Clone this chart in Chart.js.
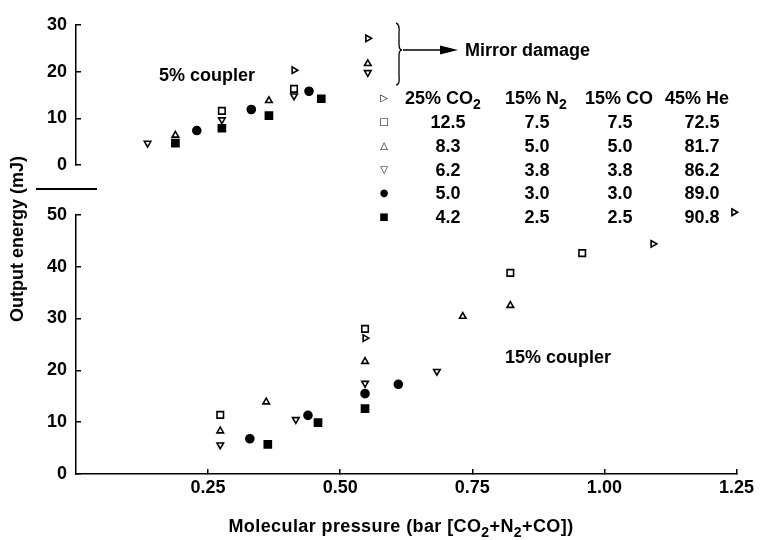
<!DOCTYPE html>
<html>
<head>
<meta charset="utf-8">
<script src="https://cdn.jsdelivr.net/npm/chart.js@4.4.0/dist/chart.umd.min.js"></script>
<style>
  body { margin: 0; background: #fff; }
  #wrap { position: relative; width: 762px; height: 540px; overflow: hidden;
          font-family: "Liberation Sans", Arial, sans-serif; font-weight: bold; font-size: 18px; color: #000; }
  .box { position: absolute; left: 0; width: 762px; }
  #topBox { top: 0; height: 190px; }
  #botBox { top: 190px; height: 350px; }
  .t { position: absolute; white-space: nowrap; line-height: 1; }
  .c { transform: translate(-50%, -50%); }
  .wide { letter-spacing: 0.4px; }
  .m { position: absolute; font-family: "DejaVu Sans", sans-serif; font-weight: bold; font-size: 10px; line-height: 1; transform: translate(-50%, -50%); }
  sub { font-size: 14px; vertical-align: -5px; line-height: 0; }
</style>
</head>
<body>
<div id="wrap">
  <div class="box" id="topBox"><canvas id="topChart"></canvas></div>
  <div class="box" id="botBox"><canvas id="botChart"></canvas></div>
  <div id="notes"></div>
</div>
<script>
// ---- data (x = bar, y = mJ) ----
// mixes: A ▷ 25% CO2 base, B □, C △, D ▽, E ●, F ■
const c5_mixA = [[0.408, 20.3], [0.546, 27.1]];
const c5_mixB = [[0.273, 11.6], [0.408, 16.3]];
const c5_mixC = [[0.186, 6.4], [0.361, 13.8], [0.546, 21.7]];
const c5_mixD = [[0.134, 4.7], [0.273, 9.7], [0.408, 14.8], [0.546, 19.8]];
const c5_mixE = [[0.226, 7.4], [0.328, 11.9], [0.436, 15.8]];
const c5_mixF = [[0.186, 4.7], [0.273, 7.9], [0.361, 10.6], [0.459, 14.2]];

const c15_mixA = [[0.547, 26.2], [1.092, 44.4], [1.245, 50.5]];
const c15_mixB = [[0.273, 11.4], [0.547, 28.0], [0.822, 38.8], [0.958, 42.6]];
const c15_mixC = [[0.273, 8.3], [0.360, 13.9], [0.547, 21.7], [0.732, 30.4], [0.822, 32.5]];
const c15_mixD = [[0.273, 5.6], [0.416, 10.5], [0.547, 17.5], [0.683, 19.8]];
const c15_mixE = [[0.329, 6.8], [0.439, 11.3], [0.547, 15.5], [0.610, 17.3]];
const c15_mixF = [[0.363, 5.7], [0.458, 9.9], [0.547, 12.6]];

const xTicks = [0.25, 0.5, 0.75, 1.0, 1.25];
const yTicks5 = [0, 10, 20, 30];
const yTicks15 = [0, 10, 20, 30, 40, 50];

const mixHeaders = ['25% CO<sub>2</sub>', '15% N<sub>2</sub>', '15% CO', '45% He'];
const mixCO2 = ['12.5', '8.3', '6.2', '5.0', '4.2'];
const mixN2 = ['7.5', '5.0', '3.8', '3.0', '2.5'];
const mixCO = ['7.5', '5.0', '3.8', '3.0', '2.5'];
const mixHe = ['72.5', '81.7', '86.2', '89.0', '90.8'];
const mixSymbols = ['\u25B7', '\u25A1', '\u25B3', '\u25BD', '\u25CF', '\u25A0'];

// ---- marker looks ----
const looks = [
    { style: 'triangle', rot: 90, fill: false, r: 3.8 },
    { style: 'rect', rot: 0, fill: false, r: 4.6 },
    { style: 'triangle', rot: 0, fill: false, r: 3.8 },
    { style: 'triangle', rot: 180, fill: false, r: 3.8 },
    { style: 'circle', rot: 0, fill: true, r: 4 },
    { style: 'rect', rot: 0, fill: true, r: 5 }
];

function makeSets(series) {
    return series.map((pts, i) => ({
        data: pts.map(p => ({ x: p[0], y: p[1] })),
        pointStyle: looks[i].style,
        pointRotation: looks[i].rot,
        pointRadius: looks[i].r,
        pointBackgroundColor: looks[i].fill ? '#000' : '#fff',
        pointBorderColor: '#000',
        pointBorderWidth: 1.6,
        showLine: false,
        clip: false
    }));
}

const tickFont = { family: '"Liberation Sans", Arial, sans-serif', size: 18, weight: 'bold' };
const axisGrid = { drawOnChartArea: false, tickLength: -5, color: '#000', lineWidth: 1.5 };
const axisBorder = { color: '#000', width: 1.5 };

function yScale(max, tickList) {
    return {
        type: 'linear', min: 0, max: max,
        afterBuildTicks: s => { s.ticks = tickList.map(v => ({ value: v })); },
        afterFit: s => { s.width = 76; },
        grid: axisGrid, border: axisBorder,
        ticks: { padding: 14, color: '#000', font: tickFont }
    };
}

const common = {
    responsive: true,
    maintainAspectRatio: false,
    animation: false,
    plugins: { legend: { display: false }, tooltip: { enabled: false } }
};

new Chart(document.getElementById('topChart'), {
    type: 'scatter',
    data: { datasets: makeSets([c5_mixA, c5_mixB, c5_mixC, c5_mixD, c5_mixE, c5_mixF]) },
    options: {
        ...common,
        layout: { padding: { top: 15, right: 18, bottom: 15, left: 0 } },
        scales: {
            x: { type: 'linear', display: false, min: 0, max: 1.25 },
            y: yScale(30, yTicks5)
        }
    }
});

new Chart(document.getElementById('botChart'), {
    type: 'scatter',
    data: { datasets: makeSets([c15_mixA, c15_mixB, c15_mixC, c15_mixD, c15_mixE, c15_mixF]) },
    options: {
        ...common,
        layout: { padding: { top: 17, right: 18, bottom: 0, left: 0 } },
        scales: {
            x: {
                type: 'linear', min: 0, max: 1.25,
                afterBuildTicks: s => { s.ticks = xTicks.map(v => ({ value: v })); },
                afterFit: s => { s.height = 66; },
                grid: axisGrid, border: axisBorder,
                ticks: { padding: 8, color: '#000', font: tickFont, callback: v => v.toFixed(2) }
            },
            y: yScale(50, yTicks15)
        }
    }
});

// ---- text, legend table and notes ----
const notes = document.getElementById('notes');
function put(html, x, y, cls) {
    const d = document.createElement('div');
    d.className = cls;
    d.innerHTML = html;
    d.style.left = x + 'px';
    d.style.top = y + 'px';
    notes.appendChild(d);
    return d;
}

const yTitle = put('Output energy (mJ)', 17, 239, 't');
yTitle.style.transform = 'translate(-50%, -50%) rotate(-90deg)';
put('Molecular pressure (bar [CO<sub>2</sub>+N<sub>2</sub>+CO])', 401, 526, 't c wide');
put('5% coupler', 207, 75, 't c');
put('15% coupler', 558, 357, 't c');
put('Mirror damage', 465, 41, 't');

const rowY = [98, 122, 146, 170, 193, 217];
const headLeft = [405, 505, 585, 665];
const colMid = [448, 537, 620, 702];
mixSymbols.forEach((s, i) => put(s, 384, rowY[i], 'm'));
mixHeaders.forEach((h, j) => put(h, headLeft[j], rowY[0] - 9, 't'));
[mixCO2, mixN2, mixCO, mixHe].forEach((col, j) => {
    col.forEach((v, i) => put(v, colMid[j], rowY[i + 1], 't c'));
});

// break mark, brace and arrow
const brk = document.createElement('div');
brk.style.cssText = 'position:absolute;left:36px;top:188px;width:61px;height:1.5px;background:#000;';
notes.appendChild(brk);

notes.insertAdjacentHTML('beforeend',
    '<svg width="762" height="120" style="position:absolute;left:0;top:0;">' +
    '<path d="M396,23 Q400,24 399,34 L399,44 Q399,50 402,50 Q399,50 399,56 L399,76 Q400,85 396,85" fill="none" stroke="#000" stroke-width="1.3"/>' +
    '<line x1="403" y1="50" x2="444" y2="50" stroke="#000" stroke-width="1.5"/>' +
    '<polygon points="440,45.5 458,50 440,54.5" fill="#000"/>' +
    '</svg>');
</script>
</body>
</html>
